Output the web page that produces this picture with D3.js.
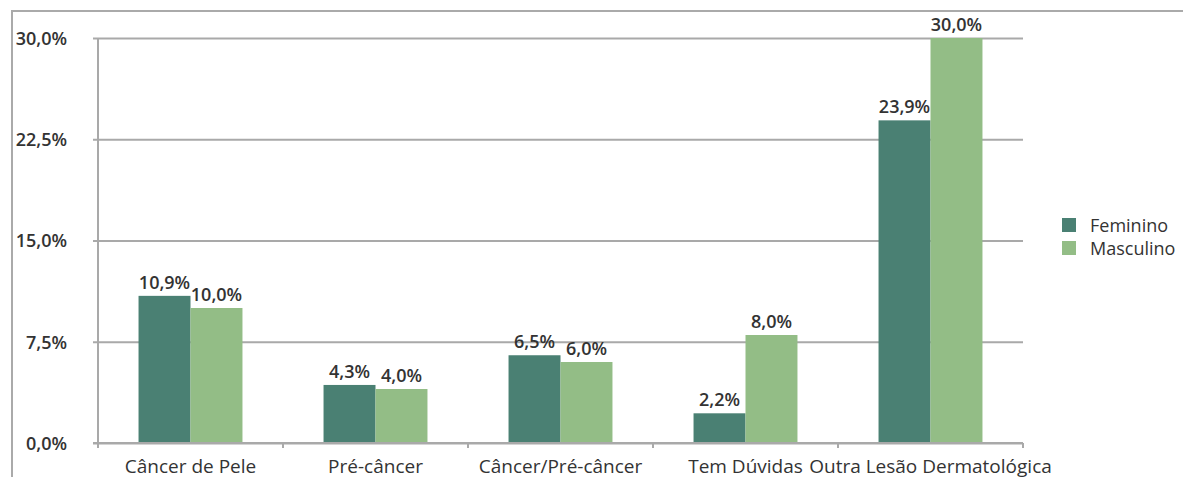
<!DOCTYPE html>
<html>
<head>
<meta charset="utf-8">
<script src="https://cdn.jsdelivr.net/npm/d3@7"></script>
<style>
  html, body { margin: 0; padding: 0; background: #fff; }
  svg { display: block; }
  text { font-family: "Open Sans", "DejaVu Sans", sans-serif; fill: #333; }
</style>
</head>
<body>
<svg id="chart" width="1183" height="477"></svg>
<script>
// Data
const categories = ["Câncer de Pele", "Pré-câncer", "Câncer/Pré-câncer", "Tem Dúvidas", "Outra Lesão Dermatológica"];
const seriesNames = ["Feminino", "Masculino"];
const feminino = [10.9, 4.3, 6.5, 2.2, 23.9];
const masculino = [10.0, 4.0, 6.0, 8.0, 30.0];
const yTicks = [0, 7.5, 15, 22.5, 30];
const colors = ["#4a8073", "#93bd86"];

const fmt = v => d3.format(".1f")(v).replace(".", ",") + "%";

const svg = d3.select("#chart");
const W = 1183, H = 477;
const plot = { left: 98, right: 1023, top: 38, bottom: 443 };

// Outer frame
svg.append("rect")
  .attr("x", 12).attr("y", 11)
  .attr("width", W + 20).attr("height", H + 20)
  .attr("fill", "none").attr("stroke", "#aaa").attr("stroke-width", 2);

const x = d3.scaleBand().domain(categories).range([plot.left, plot.right]).paddingInner(0).paddingOuter(0);
const inner = d3.scaleBand().domain(seriesNames).range([0, x.bandwidth()]).paddingInner(0).paddingOuter(0.78);
const y = d3.scaleLinear().domain([0, 30]).range([plot.bottom, plot.top]);

// Horizontal gridlines with outward tick marks
const yAxis = d3.axisLeft(y).tickValues(yTicks)
  .tickSize(-(plot.right - plot.left)).tickSizeOuter(0).tickFormat(fmt).tickPadding(31);
const gy = svg.append("g").attr("transform", `translate(${plot.left},0)`).call(yAxis);
gy.select(".domain").remove();
gy.selectAll(".tick line").attr("stroke", "#a9a9a9").attr("stroke-width", 2).attr("x1", -5);
gy.selectAll(".tick text")
  .style("font-size", "18px").style("font-weight", 600).attr("fill", "#3a3a3a")
  .attr("dy", "0.36em");

// Vertical axis line
svg.append("line")
  .attr("x1", plot.left).attr("x2", plot.left)
  .attr("y1", plot.top).attr("y2", plot.bottom + 5)
  .attr("stroke", "#a9a9a9").attr("stroke-width", 2);

// Category axis
const xAxis = d3.axisBottom(x).tickSize(0).tickPadding(17);
const gx = svg.append("g").attr("transform", `translate(0,${plot.bottom})`).call(xAxis);
gx.select(".domain").remove();
gx.selectAll(".tick text").style("font-size", "19px").style("font-weight", 500).attr("fill", "#2e2e2e");

// Tick marks at the category boundaries
const bounds = categories.map(c => x(c) + x.bandwidth());
svg.append("g").selectAll("line").data(bounds).join("line")
  .attr("x1", d => d).attr("x2", d => d)
  .attr("y1", plot.bottom).attr("y2", plot.bottom + 5)
  .attr("stroke", "#a9a9a9").attr("stroke-width", 2);

// Bars
const rows = categories.map((c, i) => ({ cat: c, values: [feminino[i], masculino[i]] }));
const groups = svg.append("g").selectAll("g").data(rows).join("g")
  .attr("transform", d => `translate(${x(d.cat)},0)`);

groups.selectAll("rect")
  .data(d => d.values.map((v, k) => ({ v, k })))
  .join("rect")
  .attr("x", d => inner(seriesNames[d.k]))
  .attr("width", inner.bandwidth())
  .attr("y", d => y(d.v))
  .attr("height", d => y(0) - y(d.v))
  .attr("fill", d => colors[d.k]);

// Baseline drawn over the bars
svg.append("line")
  .attr("x1", plot.left - 5).attr("x2", plot.right)
  .attr("y1", plot.bottom).attr("y2", plot.bottom)
  .attr("stroke", "#a9a9a9").attr("stroke-width", 2);

// Value labels
groups.selectAll("text.val")
  .data(d => d.values.map((v, k) => ({ v, k })))
  .join("text")
  .attr("class", "val")
  .attr("x", d => inner(seriesNames[d.k]) + inner.bandwidth() / 2)
  .attr("y", d => y(d.v) - 7)
  .attr("text-anchor", "middle")
  .style("font-size", "18px").style("font-weight", 600)
  .attr("fill", "#333")
  .text(d => fmt(d.v));

// Legend
const legend = svg.append("g").attr("transform", "translate(1062,218)");
const items = legend.selectAll("g").data(seriesNames).join("g")
  .attr("transform", (d, i) => `translate(0,${i * 23})`);
items.append("rect").attr("width", 14).attr("height", 14).attr("fill", (d, i) => colors[i]);
items.append("text").attr("x", 28).attr("y", 14)
  .style("font-size", "18px").attr("fill", "#333").text(d => d);
</script>
</body>
</html>
